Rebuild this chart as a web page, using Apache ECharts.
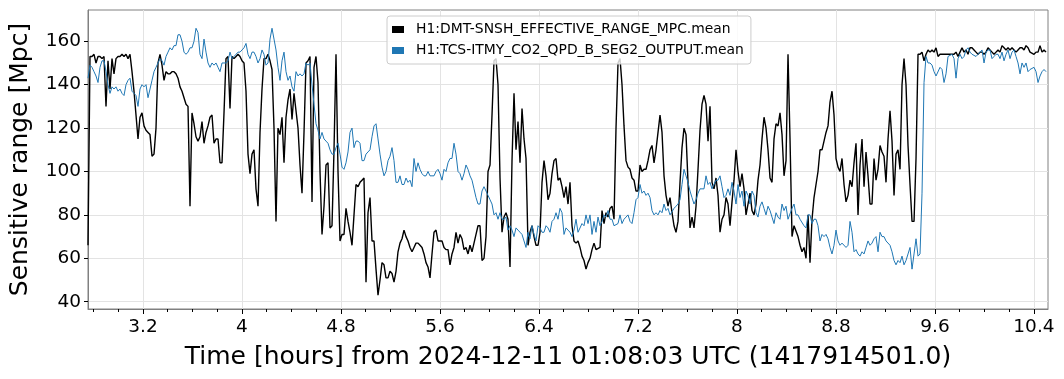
<!DOCTYPE html>
<html>
<head>
<meta charset="utf-8">
<script src="https://cdn.jsdelivr.net/npm/echarts@6/dist/echarts.min.js"></script>
<style>
html,body{margin:0;padding:0;background:#ffffff;}
#chart{width:1064px;height:379px;}
</style>
</head>
<body>
<div id="chart"></div>
<script>
// ---- data ----
const T0 = 2.756;        // hours, time of the first sample
const DT = 0.016162;     // hours between samples
const X_MIN = 2.756;
const X_MAX = 10.5136;
const Y_MIN = 36.64;
const Y_MAX = 174.41;

const xTicks = [3.2, 4, 4.8, 5.6, 6.4, 7.2, 8, 8.8, 9.6, 10.4];
const xMinorTicks = [2.8, 3.0, 3.4, 3.6, 3.8, 4.2, 4.4, 4.6, 5.0, 5.2, 5.4, 5.8, 6.0, 6.2, 6.6, 6.8, 7.0,
                     7.4, 7.6, 7.8, 8.2, 8.4, 8.6, 9.0, 9.2, 9.4, 9.8, 10.0, 10.2];
const yTicks = [40, 60, 80, 100, 120, 140, 160];

const seriesNames = ['H1:DMT-SNSH_EFFECTIVE_RANGE_MPC.mean', 'H1:TCS-ITMY_CO2_QPD_B_SEG2_OUTPUT.mean'];

const rangeMpc = [
  66,153,153,154,150,153,153,152,153,130,151,138,152,145,152,153,153,154,153,154,152,154,146,137,126,115,125,127,121,119,
  118,117,107,108,120,150,154,149,142,146,145,145,146,146,145,143,139,137,134,131,130,84,127,122,116,114,116,123,113,118,
  121,125,126,113,115,115,104,104,127,152,153,129,153,152,153,154,153,151,150,137,108,99,108,110,92,84,118,138,152,152,
  154,151,147,120,77,120,117,125,104,125,133,138,124,136,128,120,103,90,118,150,151,153,86,148,153,141,100,71,84,103,
  104,74,75,110,154,100,68,71,71,83,77,72,66,80,94,93,95,96,97,49,81,88,68,68,55,43,50,58,57,51,
  51,54,53,49,54,63,67,69,73,70,68,65,63,65,67,67,66,65,62,58,56,51,62,72,73,68,68,68,65,64,
  64,57,62,65,72,67,71,69,64,65,62,66,63,67,71,75,75,59,60,70,100,103,126,151,152,140,97,72,79,81,
  78,56,105,136,110,123,104,129,115,106,66,72,75,70,66,66,72,95,105,98,87,90,99,105,106,96,97,93,88,93,
  85,95,75,68,67,68,65,61,59,55,58,60,64,67,64,64,65,82,76,81,79,83,84,78,120,150,152,140,121,105,
  102,101,97,96,91,91,103,100,101,101,105,110,112,104,110,118,126,118,98,89,84,88,81,75,72,77,95,111,120,117,
  95,74,79,74,84,101,119,131,135,131,114,130,95,92,97,89,72,78,80,88,85,75,86,96,110,100,93,99,92,80,
  85,90,82,80,85,96,103,115,125,120,110,97,95,115,122,121,127,117,98,105,154,115,70,75,75,70,66,63,65,60,
  80,58,78,88,94,100,110,110,114,118,121,132,137,126,106,102,100,106,94,86,89,96,93,104,113,80,103,115,93,109,
  98,85,85,106,96,101,112,109,107,95,115,128,114,89,108,110,101,140,152,140,112,94,77,77,106,154,154,155,151,154,
  156,155,156,155,157,153,154,154,154,154,154,154,154,154,155,153,155,157,155,156,154,157,157,156,155,154,155,155,154,155,
  157,156,155,154,155,156,155,158,157,156,157,156,157,156,155,156,157,157,156,158,157,155,155,154,155,155,158,155,156,155
];

const co2Output = [
  143,149,148,146,144,141,148,151,151,146,140,136,139,138,139,137,138,136,135,140,142,143,137,136,135,130,138,140,139,140,
  134,138,142,146,148,150,152,151,149,153,155,157,156,158,158,163,163,160,155,154,155,157,157,160,166,164,154,152,161,155,
  150,148,150,149,150,148,146,150,150,150,151,155,152,153,154,155,155,156,157,159,154,152,155,155,153,150,152,156,154,149,
  150,161,166,161,156,148,142,151,155,146,142,144,139,137,146,144,145,144,145,150,149,150,140,131,122,119,115,118,115,114,
  113,110,108,108,111,113,108,102,101,104,109,118,120,111,114,114,113,105,105,108,109,110,116,121,122,115,108,102,98,100,
  105,107,111,105,95,95,98,94,94,97,95,96,93,106,100,104,101,99,98,98,100,98,98,98,100,101,99,96,101,100,
  104,106,106,113,108,100,99,96,99,103,101,98,96,92,88,85,85,91,93,91,89,87,85,80,81,78,81,78,78,79,
  73,75,73,70,74,73,72,71,68,65,72,69,75,71,68,75,74,72,72,75,74,72,77,78,81,78,83,81,71,74,
  73,72,70,73,78,72,72,76,75,80,76,80,71,77,72,79,75,77,80,79,82,78,78,75,75,76,80,76,78,79,
  80,77,76,81,87,88,94,90,91,89,90,88,82,80,81,80,82,81,85,82,83,80,80,83,84,85,87,94,101,98,
  95,91,88,85,87,90,92,92,92,98,94,95,92,94,96,96,98,93,88,89,92,89,95,91,85,94,88,91,84,91,
  89,85,91,89,81,79,84,86,83,80,84,82,79,76,81,79,78,85,82,84,78,78,83,85,80,80,78,78,75,74,
  80,80,76,78,78,75,68,71,70,71,69,65,62,66,73,68,66,67,67,65,66,77,72,63,64,62,61,63,62,65,
  68,66,67,69,70,63,72,70,70,68,68,66,63,59,57,59,58,61,57,59,62,65,55,62,69,61,62,90,141,153,
  150,150,149,146,144,144,148,147,141,145,153,153,154,152,143,152,154,152,153,156,157,155,154,154,153,154,154,156,150,155,
  156,156,152,153,154,154,152,155,151,154,156,152,155,156,153,150,145,150,148,150,146,147,147,148,146,141,144,146,147,146
];

// ---- chart ----
const FONT = 'DejaVu Sans';
const pairs = vals => vals.map((v, i) => [T0 + i * DT, v]);
const fmt = v => String(+(+v).toFixed(1));

const chart = echarts.init(document.getElementById('chart'), null, {renderer: 'canvas'});
chart.setOption({
  animation: false,
  backgroundColor: '#ffffff',
  grid: {
    left: 88, right: 16, top: 10, bottom: 70,
    show: true, borderColor: '#808080', borderWidth: 1, backgroundColor: 'transparent'
  },
  legend: {
    orient: 'vertical', left: 387, top: 16,
    icon: 'rect', itemWidth: 12, itemHeight: 7, itemGap: 6,
    padding: [6, 7, 6, 5],
    backgroundColor: 'rgba(255,255,255,0.8)', borderColor: '#cccccc', borderWidth: 1, borderRadius: 3,
    textStyle: {fontSize: 13.9, color: '#000', fontFamily: FONT, lineHeight: 15, padding: [0, 0, 0, 7]},
    data: seriesNames
  },
  xAxis: [{
    type: 'value', min: X_MIN, max: X_MAX, position: 'bottom',
    axisLine: {show: true, onZero: false, lineStyle: {color: '#808080', width: 1}},
    axisTick: {show: true, customValues: xTicks, length: 5, lineStyle: {color: '#000', width: 1}},
    axisLabel: {customValues: xTicks, fontSize: 18.5, color: '#000', fontFamily: FONT, margin: 9, formatter: fmt},
    splitLine: {show: true, lineStyle: {color: '#e3e3e3', width: 1}},
    name: 'Time [hours] from 2024-12-11 01:08:03 UTC (1417914501.0)',
    nameLocation: 'middle', nameGap: 36,
    nameTextStyle: {fontSize: 25, color: '#000', fontFamily: FONT}
  }, {
    type: 'value', min: X_MIN, max: X_MAX, position: 'bottom',
    axisLine: {show: false},
    axisTick: {show: true, customValues: xMinorTicks, length: 3, lineStyle: {color: '#000', width: 1}},
    axisLabel: {show: false},
    splitLine: {show: false}
  }],
  yAxis: {
    type: 'value', min: Y_MIN, max: Y_MAX,
    axisLine: {show: true, onZero: false, lineStyle: {color: '#808080', width: 1}},
    axisTick: {show: true, customValues: yTicks, length: 4, lineStyle: {color: '#000', width: 1}},
    axisLabel: {customValues: yTicks, fontSize: 18.5, color: '#000', fontFamily: FONT, margin: 7},
    splitLine: {show: true, lineStyle: {color: '#e3e3e3', width: 1}},
    name: 'Sensitive range [Mpc]', nameLocation: 'middle', nameGap: 55,
    nameTextStyle: {fontSize: 25, color: '#000', fontFamily: FONT}
  },
  series: [{
    name: seriesNames[0], type: 'line', xAxisIndex: 0, showSymbol: false, symbol: 'none',
    color: '#000000', lineStyle: {color: '#000000', width: 1.4}, data: pairs(rangeMpc), z: 2
  }, {
    name: seriesNames[1], type: 'line', xAxisIndex: 0, showSymbol: false, symbol: 'none',
    color: '#1f77b4', lineStyle: {color: '#1f77b4', width: 1}, data: pairs(co2Output), z: 3
  }]
});
</script>
</body>
</html>
